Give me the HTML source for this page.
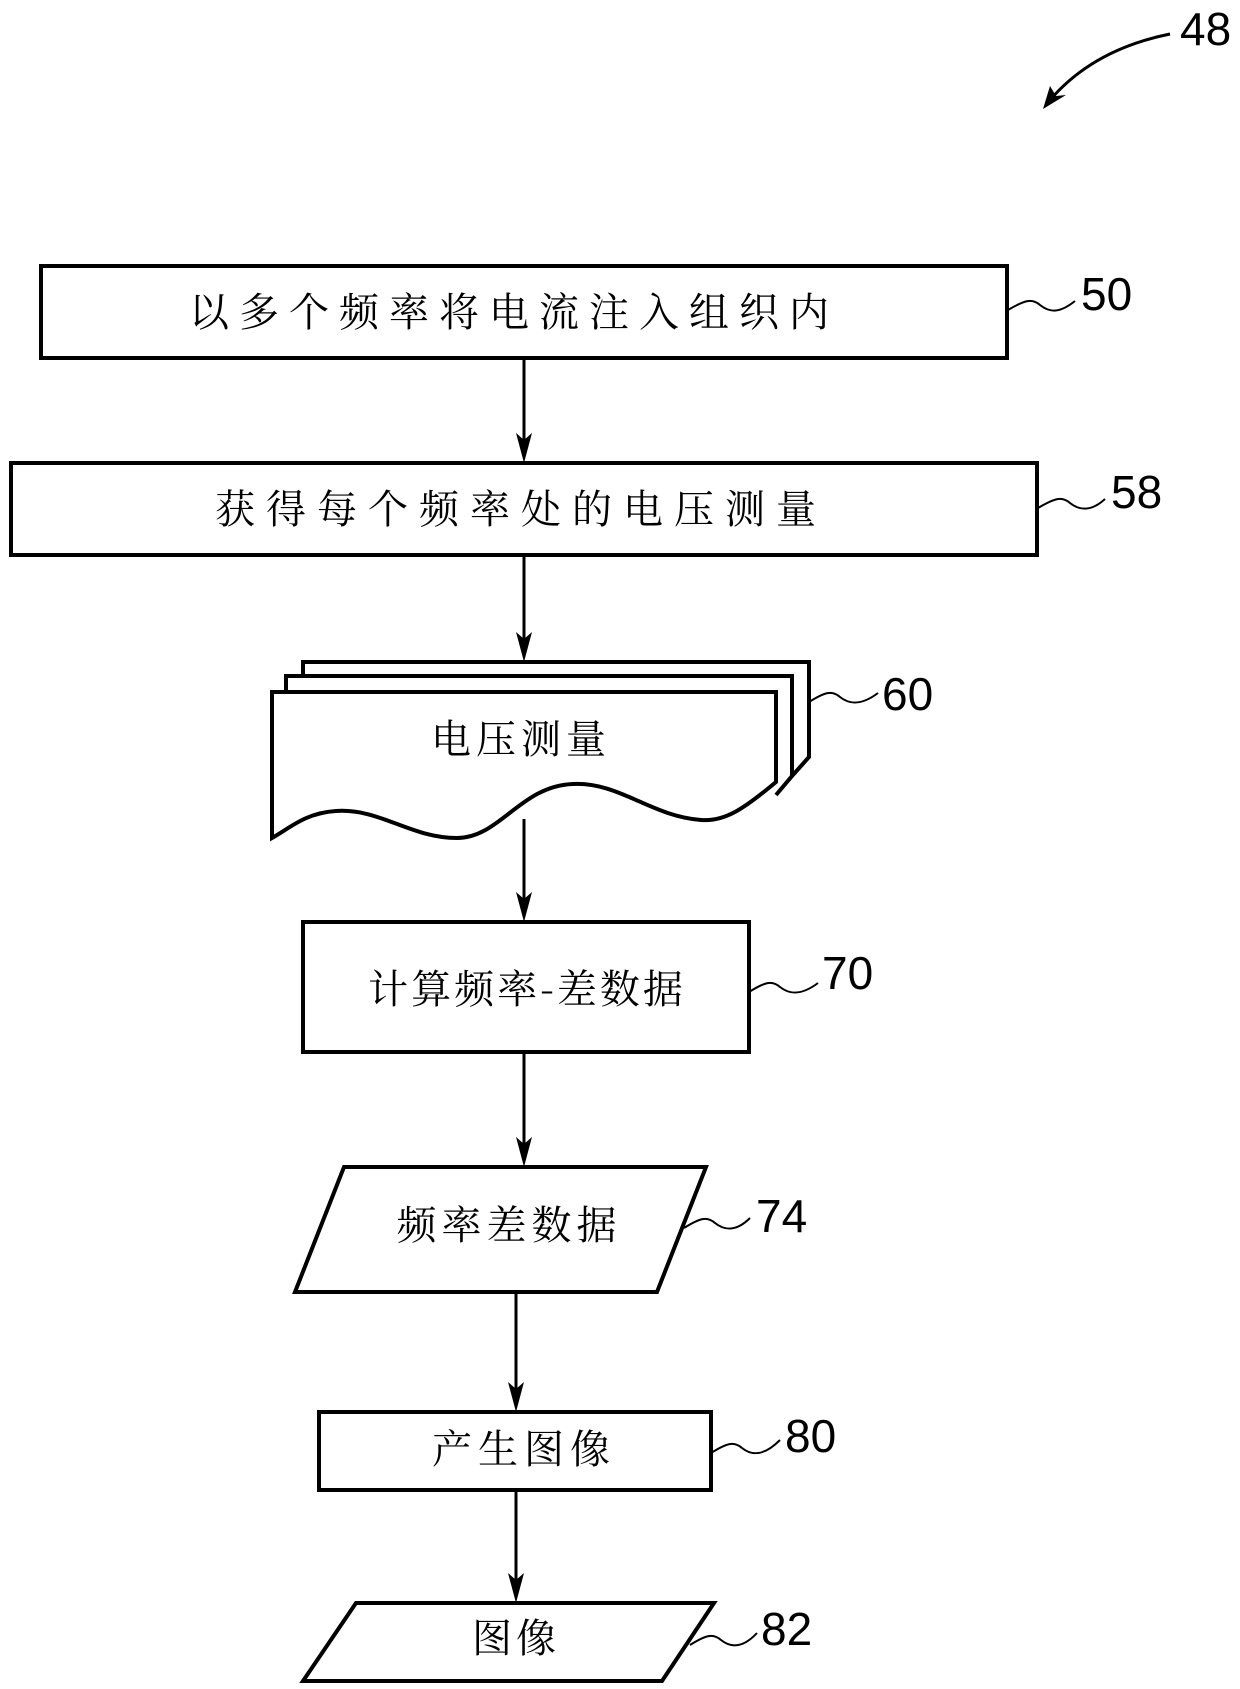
<!DOCTYPE html>
<html><head><meta charset="utf-8"><style>
html,body{margin:0;padding:0;background:#fff;}
svg{display:block;}
.t{font-family:"Noto Serif CJK SC","Liberation Serif","Noto Sans CJK SC",serif;font-size:40px;fill:#000;}
.n{font-family:"Liberation Sans",sans-serif;font-size:46px;fill:#000;}
</style></head><body>
<svg width="1240" height="1689" viewBox="0 0 1240 1689" xmlns="http://www.w3.org/2000/svg">
<g fill="none" stroke="#000" stroke-width="4">
<!-- 48 arrow -->
<path d="M1170,34 C1120,44 1080,65 1050,100" stroke-width="3"/>
<path d="M1043,109 L1050,86 L1056,96 L1066,95 Z" fill="#000" stroke="none"/>
<!-- boxes -->
<rect x="41" y="266" width="966" height="92"/>
<rect x="11" y="463" width="1026" height="92"/>
<!-- doc sheets -->
<path d="M303,676 V662 H809 V757 L792,776"/>
<path d="M286,692 V676 H792 V776 L776,795"/>
<path d="M272,838 V692 H776 V782 C745,808 725,822 701,820 C650,816 620,782 573,784 C520,786 500,838 457,838 C410,838 380,808 336,811 C305,813 290,828 272,838 Z" fill="#fff"/>
<rect x="303" y="922" width="446" height="130"/>
<path d="M344,1167 H706 L657,1292 H295 Z"/>
<rect x="319" y="1412" width="392" height="78"/>
<path d="M356,1603 H714 L662,1681 H303 Z"/>
<!-- connectors -->
<path d="M524,358 V440" stroke-width="3"/>
<path d="M524,555 V640" stroke-width="3"/>
<path d="M524,819 V900" stroke-width="3"/>
<path d="M524,1052 V1145" stroke-width="3"/>
<path d="M516,1292 V1390" stroke-width="3"/>
<path d="M516,1490 V1580" stroke-width="3"/>
<!-- squiggles -->
<g stroke-width="2">
<path d="M1008,310 C1025,300 1032,298 1040,305 C1050,313 1060,313 1075,301"/>
<path d="M1038,508 C1055,498 1062,496 1070,503 C1080,511 1092,511 1105,499"/>
<path d="M809,702 C825,692 832,690 840,697 C850,705 862,705 878,693"/>
<path d="M749,992 C765,982 772,980 780,987 C790,995 802,995 818,983"/>
<path d="M684,1228 C700,1218 707,1216 715,1223 C725,1231 737,1231 750,1218"/>
<path d="M711,1453 C727,1443 734,1441 742,1448 C752,1456 764,1456 780,1440"/>
<path d="M690,1645 C706,1635 713,1633 721,1640 C731,1648 743,1648 757,1633"/>
</g>
</g>
<g fill="#000">
<path d="M516,433 L524,440 L532,433 L524,463 Z"/>
<path d="M516,632 L524,639 L532,632 L524,662 Z"/>
<path d="M516,892 L524,899 L532,892 L524,922 Z"/>
<path d="M516,1137 L524,1144 L532,1137 L524,1167 Z"/>
<path d="M508,1382 L516,1389 L524,1382 L516,1412 Z"/>
<path d="M508,1573 L516,1580 L524,1573 L516,1603 Z"/>
</g>
<text class="n" x="1180" y="45">48</text>
<text class="n" x="1081" y="310">50</text>
<text class="n" x="1111" y="508">58</text>
<text class="n" x="882" y="710">60</text>
<text class="n" x="822" y="989">70</text>
<text class="n" x="756" y="1232">74</text>
<text class="n" x="785" y="1452">80</text>
<text class="n" x="761" y="1645">82</text>
<text class="t" x="514" y="326" text-anchor="middle" letter-spacing="10">以多个频率将电流注入组织内</text>
<text class="t" x="521" y="523" text-anchor="middle" letter-spacing="11">获得每个频率处的电压测量</text>
<text class="t" x="521" y="753" text-anchor="middle" letter-spacing="5">电压测量</text>
<text class="t" x="527" y="1003" text-anchor="middle" letter-spacing="3">计算频率-差数据</text>
<text class="t" x="509" y="1239" text-anchor="middle" letter-spacing="5">频率差数据</text>
<text class="t" x="524" y="1463" text-anchor="middle" letter-spacing="6">产生图像</text>
<text class="t" x="516" y="1652" text-anchor="middle" letter-spacing="4">图像</text>
</svg>
</body></html>
